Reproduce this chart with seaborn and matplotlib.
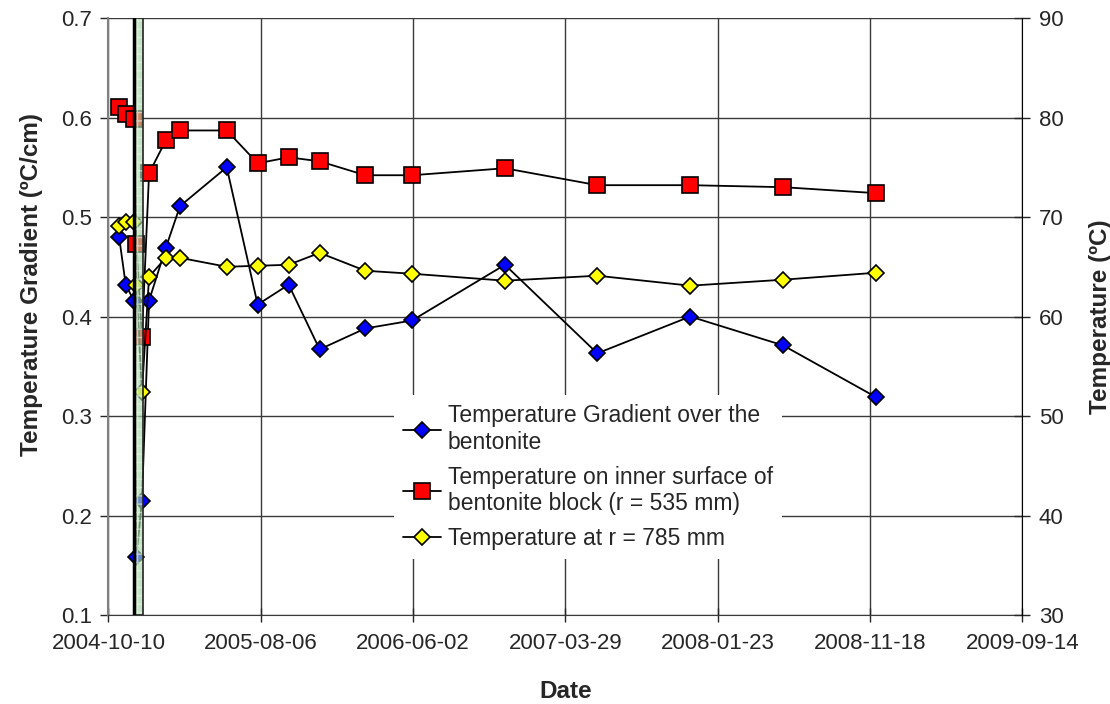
import numpy as np
import pandas as pd
import seaborn as sns
import matplotlib
matplotlib.use("Agg")
from matplotlib import pyplot as plt
import matplotlib.dates as mdates

# measurement dates shared by the three series
dates = ["2004-10-31", "2004-11-13", "2004-11-29", "2004-12-04", "2004-12-15",
         "2004-12-29", "2005-01-31", "2005-02-28", "2005-05-31", "2005-07-31",
         "2005-09-30", "2005-11-30", "2006-02-28", "2006-05-31", "2006-11-30",
         "2007-05-31", "2007-11-30", "2008-05-31", "2008-11-30"]

gradient = [0.480, 0.432, 0.416, 0.158, 0.215, 0.416, 0.469, 0.511, 0.550, 0.412,
            0.432, 0.367, 0.388, 0.396, 0.452, 0.363, 0.400, 0.371, 0.319]   # ºC/cm

temp_inner = [81.1, 80.4, 79.9, 67.3, 57.9, 74.4, 77.7, 78.7, 78.7, 75.4,
              76.0, 75.6, 74.2, 74.2, 74.9, 73.2, 73.2, 73.0, 72.4]         # r = 535 mm

temp_785 = [69.1, 69.5, 69.5, 63.2, 52.4, 64.0, 65.9, 65.9, 65.0, 65.1,
            65.2, 66.4, 64.6, 64.3, 63.6, 64.1, 63.1, 63.7, 64.4]           # r = 785 mm

labels = ["Temperature Gradient over the\nbentonite",
          "Temperature on inner surface of\nbentonite block (r = 535 mm)",
          "Temperature at r = 785 mm"]

# shaded period (green bar)
span_start, span_end = "2004-11-29", "2004-12-17"

x_start, x_end, x_step = "2004-10-10", "2009-09-14", 300

df = pd.DataFrame({"date": pd.to_datetime(dates), "grad": gradient,
                   "inner": temp_inner, "r785": temp_785})

sns.set_style("white")
plt.rcParams["font.family"] = ["Liberation Sans", "DejaVu Sans"]

fig = plt.figure(figsize=(11.1, 7.04), dpi=100)
ax = fig.add_axes([0.0977, 0.1264, 0.8232, 0.848])
ax2 = ax.twinx()

line_kw = dict(color="black", lw=1.3, markeredgecolor="black", markeredgewidth=1.2)
sns.lineplot(data=df, x="date", y="grad", ax=ax, marker="D", markersize=8.5,
             markerfacecolor="#0000ff", label=labels[0], zorder=3, **line_kw)
sns.lineplot(data=df, x="date", y="inner", ax=ax2, marker="s", markersize=11,
             markerfacecolor="#ff0000", label=labels[1], zorder=3, **line_kw)
sns.lineplot(data=df, x="date", y="r785", ax=ax2, marker="D", markersize=8.5,
             markerfacecolor="#ffff00", label=labels[2], zorder=3, **line_kw)

h1, l1 = ax.get_legend_handles_labels()
h2, l2 = ax2.get_legend_handles_labels()
ax.get_legend().remove()
ax2.get_legend().remove()

# green bar drawn over the data
s0, s1 = pd.Timestamp(span_start), pd.Timestamp(span_end)
ax2.axvspan(s0, s1, facecolor="#a8d8a8", alpha=0.65, edgecolor="none", zorder=5)
ax2.axvspan(s0, s1, facecolor="none", edgecolor="#eaf6ea", hatch="++", lw=0, alpha=0.6, zorder=5)
ax2.axvspan(s0, s1, facecolor="none", edgecolor="#222222", lw=1.2, zorder=6)
ax2.axvline(s0, color="black", lw=2.5, zorder=6)

# axes limits and ticks
t0, t1 = pd.Timestamp(x_start), pd.Timestamp(x_end)
ax.set_xlim(t0, t1)
ax.set_xticks(pd.date_range(t0, t1, freq=f"{x_step}D"))
ax.xaxis.set_major_formatter(mdates.DateFormatter("%Y-%m-%d"))
ax.set_ylim(0.1, 0.7)
ax.set_yticks(np.arange(0.1, 0.71, 0.1))
ax.yaxis.set_major_formatter(plt.FormatStrFormatter("%.1f"))
ax2.set_ylim(30, 90)
ax2.set_yticks(np.arange(30, 91, 10))

ax.grid(True, color="#3a3a3a", lw=1.0)
ax.set_axisbelow(True)

for a in (ax, ax2):
    for s in a.spines.values():
        s.set_visible(False)
ax.spines["left"].set_visible(True)
ax.spines["left"].set_color("#808080")
ax.spines["left"].set_linewidth(1.5)
ax.spines["bottom"].set_visible(True)
ax.spines["bottom"].set_color("#3a3a3a")
ax2.spines["right"].set_visible(True)
ax2.spines["right"].set_color("black")

ax.tick_params(axis="y", direction="out", length=6, width=1, labelsize=16, pad=6, left=True)
ax.tick_params(axis="x", direction="inout", length=10, width=1, labelsize=16, pad=8, bottom=True)
ax2.tick_params(axis="y", direction="inout", length=12, width=1, labelsize=16, pad=6, right=True)

ax.set_xlabel("Date", fontsize=17.5, fontweight="bold", labelpad=19)
ax.set_ylabel("Temperature Gradient (ºC/cm)", fontsize=17.5, fontweight="bold")
ax.yaxis.set_label_coords(-0.072, 0.554)
ax2.set_ylabel("Temperature (ºC)", fontsize=17.5, fontweight="bold", labelpad=18)

leg = ax2.legend(h1 + h2, l1 + l2, loc="lower left", bbox_to_anchor=(0.3, 0.075),
                 fontsize=16.5, frameon=True, facecolor="white", edgecolor="none",
                 framealpha=1, fancybox=False, handlelength=1.65, handletextpad=0.3,
                 labelspacing=0.5, borderpad=0.4)
leg.set_zorder(10)

fig.savefig("out.png", dpi=100)
